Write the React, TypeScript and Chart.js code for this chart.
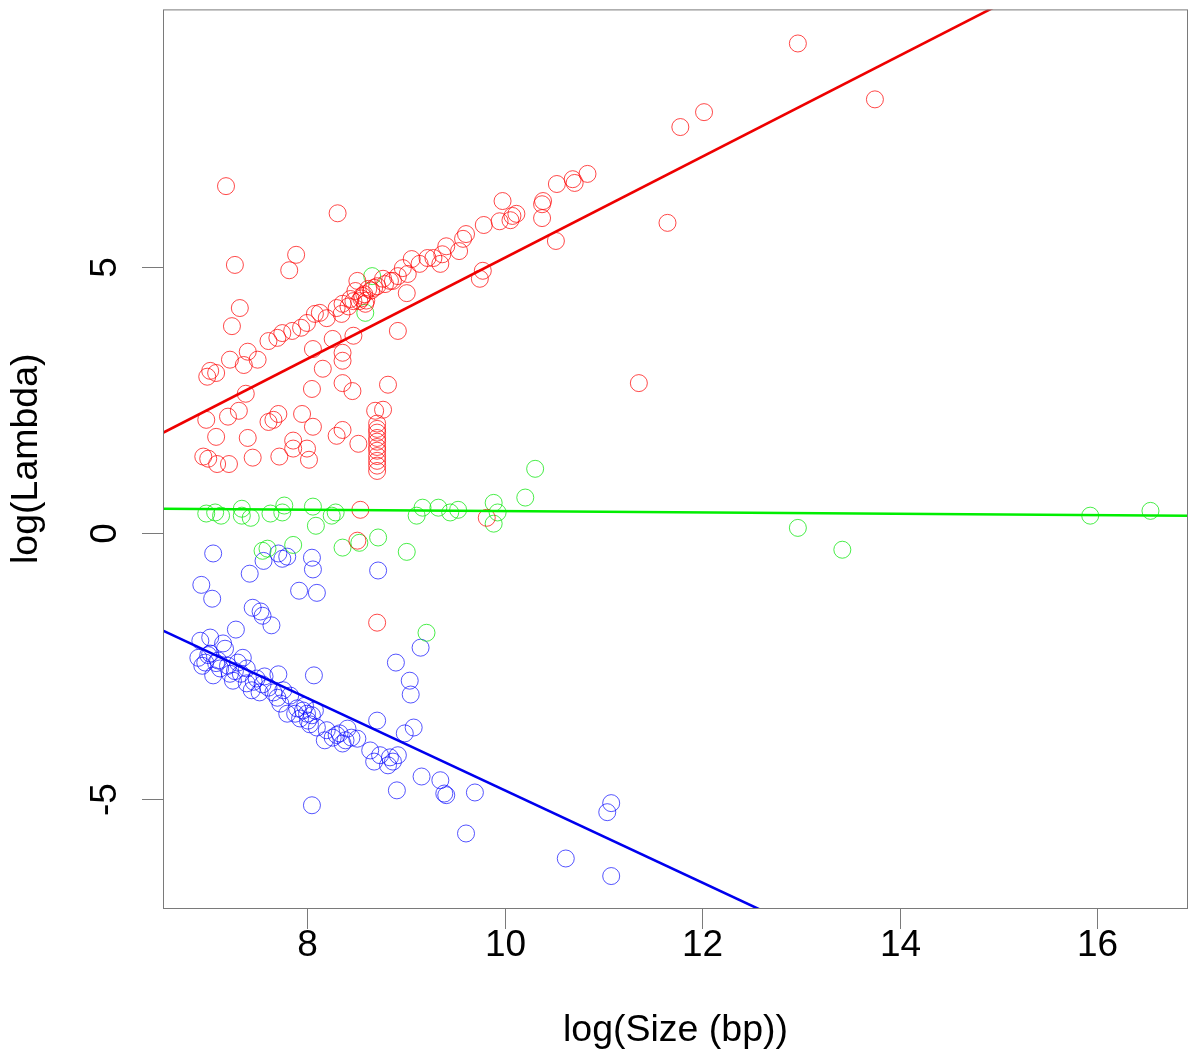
import { useEffect, useRef } from 'react';
import { Chart, registerables } from 'chart.js';

Chart.register(...registerables);

// Axis ranges and ticks
const xRange = [6.542, 16.92];
const yRange = [-7.05, 9.83];
const xTicks = [8, 10, 12, 14, 16];
const yTicks = [-5, 0, 5];
const xTitle = 'log(Size (bp))';
const yTitle = 'log(Lambda)';

// Regression fits: [intercept, slope] for red, green, blue
const fitRed = [-4.339, 0.95];
const fitGreen = [0.532, -0.0126];
const fitBlue = [3.833, -0.867];

const redPoints: number[][] = [
  [12.97, 9.19], [13.75, 8.14], [12.02, 7.9], [11.78, 7.62], [11.65, 5.82], [11.36, 2.81],
  [10.84, 6.74], [10.71, 6.57], [10.69, 6.64], [10.53, 6.55], [10.39, 6.23], [10.38, 6.17],
  [10.38, 5.91], [10.52, 5.48], [9.98, 6.23], [10.12, 5.99], [10.08, 5.95], [10.06, 5.87],
  [9.95, 5.85], [9.79, 5.78], [9.61, 5.61], [9.58, 5.52], [9.54, 5.29], [9.41, 5.38],
  [9.37, 5.23], [9.35, 5.05], [9.28, 5.16], [9.22, 5.16], [9.14, 5.05], [9.06, 5.14],
  [9.02, 4.86], [8.97, 4.97], [8.92, 4.82], [8.84, 4.73], [8.79, 4.67], [9.01, 4.5],
  [9.78, 4.92], [9.75, 4.77], [8.92, 3.79], [8.82, 2.78],
  [6.99, 2.93], [7.08, 3.0], [7.22, 3.25], [7.36, 3.15], [7.4, 3.4], [7.5, 3.25],
  [7.61, 3.6], [7.7, 3.66], [7.75, 3.75], [7.85, 3.79], [7.94, 3.85], [8.0, 3.94],
  [8.08, 4.11], [8.13, 4.13], [8.2, 4.03], [8.3, 4.22], [8.36, 4.3], [8.35, 4.11],
  [8.47, 4.35], [8.56, 4.45], [8.59, 4.3], [8.62, 4.58], [8.71, 4.63], [8.77, 4.77],
  [8.87, 4.73], [8.51, 4.73], [8.49, 4.54], [8.44, 4.39], [7.02, 3.04],
  [8.55, 4.4], [8.58, 4.48], [8.65, 4.55], [8.68, 4.6], [8.53, 4.35], [8.42, 4.25], [8.6, 4.36],
  [8.06, 3.45], [8.26, 3.64], [8.36, 3.38], [8.36, 3.23], [8.47, 3.7], [8.16, 3.08],
  [8.05, 2.7], [8.36, 2.81], [8.46, 2.66], [7.38, 2.61],
  [7.18, 6.51], [8.31, 6.0], [7.89, 5.22], [7.82, 4.93], [7.27, 5.03], [7.32, 4.22], [7.24, 3.88],
  [6.98, 2.12], [7.2, 2.18], [7.31, 2.29], [7.61, 2.08], [7.66, 2.12], [7.71, 2.23],
  [7.95, 2.23], [8.06, 1.99], [7.08, 1.8], [7.4, 1.78], [7.86, 1.73], [7.86, 1.58],
  [8.0, 1.58], [8.02, 1.37], [7.72, 1.43], [7.45, 1.41], [6.95, 1.43], [7.0, 1.39],
  [7.09, 1.29], [7.21, 1.29], [8.3, 1.82], [8.36, 1.93], [8.52, 1.67], [8.69, 2.29], [8.77, 2.31],
  [8.71, 2.05], [8.71, 1.95], [8.71, 1.88], [8.71, 1.78], [8.71, 1.71], [8.71, 1.61],
  [8.71, 1.54], [8.71, 1.44], [8.71, 1.35], [8.71, 1.26], [8.71, 1.16],
  [8.54, 0.43], [8.51, -0.15], [8.71, -1.69], [9.82, 0.28],
];

const greenPoints: number[][] = [
  [6.98, 0.36], [7.07, 0.38], [7.13, 0.32], [7.34, 0.45], [7.34, 0.32], [7.43, 0.28],
  [7.63, 0.36], [7.75, 0.38], [7.77, 0.51], [8.06, 0.49], [8.09, 0.13], [8.25, 0.32],
  [8.29, 0.38], [7.55, -0.34], [7.86, -0.23], [8.36, -0.28], [8.72, -0.09], [9.01, -0.36],
  [10.31, 1.2], [10.21, 0.66], [9.89, 0.56], [9.93, 0.38], [9.89, 0.17], [9.53, 0.43],
  [9.45, 0.38], [9.33, 0.47], [9.17, 0.47], [9.11, 0.32], [12.97, 0.09], [13.42, -0.32],
  [15.93, 0.32], [16.54, 0.41], [9.21, -1.88], [8.66, 4.82], [8.59, 4.13], [7.6, -0.3],
  [8.53, -0.19],
];

const bluePoints: number[][] = [
  [7.05, -0.39], [6.93, -0.98], [7.04, -1.24], [7.42, -0.77], [7.56, -0.53], [7.71, -0.39],
  [7.75, -0.49], [7.8, -0.45], [8.05, -0.47], [8.06, -0.69], [7.92, -1.09], [8.1, -1.13],
  [8.72, -0.71], [7.45, -1.41], [7.53, -1.48], [7.55, -1.56], [7.64, -1.74], [7.28, -1.82],
  [7.02, -1.97], [8.07, -2.68], [7.71, -2.66], [8.9, -2.44], [8.71, -3.53], [8.91, -4.84],
  [8.05, -5.12], [9.15, -2.16], [9.04, -2.78], [9.05, -3.04], [9.08, -3.66], [8.99, -3.77],
  [8.92, -4.18], [8.87, -4.3], [8.82, -4.37], [8.74, -4.18], [9.16, -4.58], [9.35, -4.65],
  [9.39, -4.9], [9.41, -4.93], [9.7, -4.88], [9.61, -5.65], [10.62, -6.12], [11.08, -5.08],
  [11.04, -5.25], [11.08, -6.45],
  [6.9, -2.35], [6.94, -2.5], [6.97, -2.44], [7.02, -2.27], [7.05, -2.68], [7.12, -2.55],
  [7.17, -2.18], [7.22, -2.65], [7.25, -2.78], [7.35, -2.35], [7.39, -2.55], [7.39, -2.83],
  [7.44, -2.96], [7.49, -2.74], [7.52, -3.0], [7.61, -2.91], [7.7, -3.1], [7.76, -2.96],
  [7.73, -3.21], [7.8, -3.4], [7.88, -3.4], [7.93, -3.49], [7.96, -3.34], [8.01, -3.53],
  [8.05, -3.43], [8.1, -3.66], [8.2, -3.71], [8.26, -3.85], [8.33, -3.77], [8.36, -3.96],
  [8.41, -3.68], [8.51, -3.87], [8.64, -4.09], [8.84, -4.22], [6.92, -2.03], [7.15, -2.08],
  [7.1, -2.4], [7.3, -2.44], [7.57, -2.7], [7.83, -3.06], [7.98, -3.25], [8.18, -3.9],
  [8.08, -3.34], [8.39, -3.9],
  [7.0, -2.3], [7.08, -2.45], [7.2, -2.5], [7.27, -2.6], [7.33, -2.65], [7.46, -2.8],
  [7.55, -2.85], [7.66, -3.0], [7.9, -3.3], [8.0, -3.4], [8.03, -3.6], [8.3, -3.8],
  [8.45, -3.85], [8.68, -4.3],
];

const toXY = (pts: number[][]) => pts.map((p) => ({ x: p[0], y: p[1] }));
const fitLine = (fit: number[]) =>
  xRange.map((x) => ({ x, y: fit[0] + fit[1] * x }));

const FONT = '"Liberation Sans", Arial, Helvetica, sans-serif';

const axesPlugin = {
  id: 'rAxes',
  afterDraw(chart: any) {
    const { ctx, chartArea: a } = chart;
    const xs = chart.scales.x;
    const ys = chart.scales.y;
    ctx.save();
    ctx.strokeStyle = '#7a7a7a';
    ctx.lineWidth = 1;
    ctx.strokeRect(a.left + 0.5, a.top + 0.5, a.right - a.left - 1, a.bottom - a.top);
    ctx.fillStyle = '#000';
    ctx.font = `37px ${FONT}`;
    ctx.textAlign = 'center';
    ctx.textBaseline = 'middle';
    xTicks.forEach((v) => {
      const px = Math.round(xs.getPixelForValue(v)) + 0.5;
      ctx.beginPath();
      ctx.moveTo(px, a.bottom);
      ctx.lineTo(px, a.bottom + 21);
      ctx.stroke();
      ctx.fillText(String(v), px, a.bottom + 38);
    });
    yTicks.forEach((v) => {
      const py = Math.round(ys.getPixelForValue(v)) + 0.5;
      ctx.beginPath();
      ctx.moveTo(a.left - 21, py);
      ctx.lineTo(a.left, py);
      ctx.stroke();
      ctx.save();
      ctx.translate(a.left - 57, py);
      ctx.rotate(-Math.PI / 2);
      ctx.fillText(String(v), 0, 0);
      ctx.restore();
    });
    ctx.font = `37.5px ${FONT}`;
    ctx.fillText(xTitle, (a.left + a.right) / 2, a.bottom + 123);
    ctx.save();
    ctx.translate(27, (a.top + a.bottom) / 2);
    ctx.rotate(-Math.PI / 2);
    ctx.fillText(yTitle, 0, 0);
    ctx.restore();
    ctx.restore();
  },
};

export default function App() {
  const ref = useRef<HTMLCanvasElement | null>(null);
  useEffect(() => {
    if (!ref.current) return;
    const pointDs = (pts: number[][], color: string) => ({
      data: toXY(pts),
      showLine: false,
      pointStyle: 'circle',
      pointRadius: 8.5,
      pointHoverRadius: 8.5,
      pointBorderWidth: 0.9,
      borderWidth: 0.9,
      borderColor: color,
      pointBorderColor: color,
      backgroundColor: 'rgba(0,0,0,0)',
      pointBackgroundColor: 'rgba(0,0,0,0)',
      order: 2,
    });
    const lineDs = (fit: number[], color: string) => ({
      data: fitLine(fit),
      showLine: true,
      pointRadius: 0,
      borderWidth: 2.6,
      borderColor: color,
      backgroundColor: color,
      clip: 0,
      order: 1,
    });
    const chart = new Chart(ref.current, {
      type: 'scatter',
      data: {
        datasets: [
          pointDs(redPoints, 'rgba(255,0,0,0.8)'),
          pointDs(greenPoints, 'rgba(0,230,0,0.8)'),
          pointDs(bluePoints, 'rgba(0,0,255,0.75)'),
          lineDs(fitRed, '#ee0000'),
          lineDs(fitGreen, '#00ee00'),
          lineDs(fitBlue, '#0000ee'),
        ] as any,
      },
      options: {
        animation: false,
        responsive: false,
        devicePixelRatio: 1,
        events: [],
        layout: { padding: { left: 163, top: 8, right: 12, bottom: 149 } },
        plugins: { legend: { display: false }, tooltip: { enabled: false } },
        scales: {
          x: { type: 'linear', display: false, min: xRange[0], max: xRange[1] },
          y: { type: 'linear', display: false, min: yRange[0], max: yRange[1] },
        },
      },
      plugins: [axesPlugin],
    });
    return () => chart.destroy();
  }, []);
  return (
    <div style={{ position: 'absolute', left: 0, top: 0, width: 1200, height: 1057, background: '#fff' }}>
      <canvas ref={ref} width={1200} height={1057} style={{ display: 'block' }} />
    </div>
  );
}
